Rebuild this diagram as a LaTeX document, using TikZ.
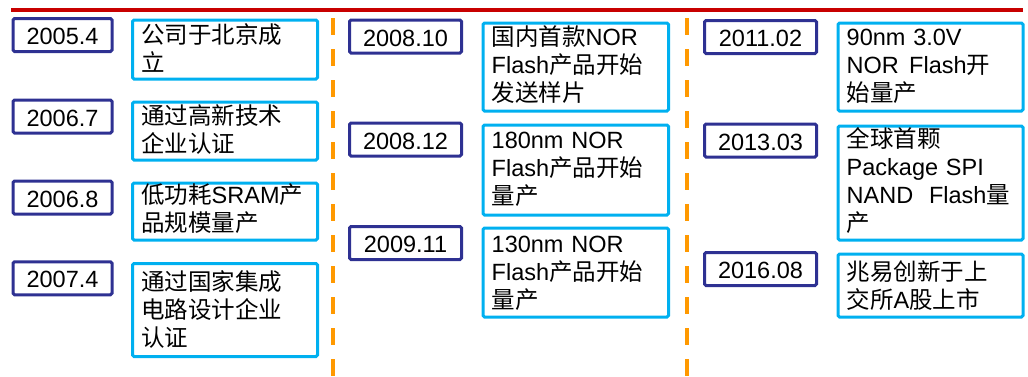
\documentclass[tikz,border=0pt]{standalone}
\usepackage{fontspec}
\setmainfont{Liberation Sans}
\newfontfamily\cjkfont{Noto Sans CJK SC}
\newcommand\zh[1]{{\cjkfont #1}}
\definecolor{navyb}{RGB}{46,49,146}
\definecolor{skyb}{RGB}{0,176,240}
\definecolor{orng}{RGB}{255,153,0}
\definecolor{redl}{RGB}{200,0,0}
\tikzset{
  datebox/.style={draw=navyb, line width=3pt, rounded corners=1.5pt, inner sep=0pt,
    minimum width=112pt, minimum height=33pt, text height=19pt, text depth=0pt,
    font=\fontsize{23.5}{28}\selectfont},
  descbox/.style={draw=skyb, line width=3pt, rounded corners=1.5pt, inner sep=0pt, anchor=north west},
  desctext/.style={anchor=base west, inner sep=0pt, text width=200pt, align=left,
    font=\fontsize{23.5}{28}\selectfont},
  timeline/.style={draw=orng, line width=4pt, dash pattern=on 17pt off 14pt},
  topline/.style={draw=redl, line width=3.5pt},
}
\begin{document}
\begin{tikzpicture}[x=1pt,y=-1pt]
\useasboundingbox (0,0) rectangle (1028,376);
% top red line
\coordinate (rl) at (11,10);
\coordinate (rr) at (1023,10);
\draw[topline] (rl) -- (rr);
% dashed separators
\coordinate (s1t) at (333,18);
\coordinate (s1b) at (333,376);
\coordinate (s2t) at (687,18);
\coordinate (s2b) at (687,376);
\draw[timeline] (s1t) -- (s1b);
\draw[timeline] (s2t) -- (s2b);

% column 1 dates
\node[datebox, minimum width=99pt] (d1) at (62.5,35) {2005.4};
\node[datebox, minimum width=99pt] (d2) at (62.5,116.5) {2006.7};
\node[datebox, minimum width=99pt] (d3) at (62.5,197.5) {2006.8};
\node[datebox, minimum width=99pt] (d4) at (62.5,278.3) {2007.4};
% column 1 descriptions
\node[descbox, minimum width=185pt, minimum height=59pt] (e1) at (131,18.5) {};
\node[descbox, minimum width=185pt, minimum height=58pt] (e2) at (131,100.5) {};
\node[descbox, minimum width=185pt, minimum height=57pt] (e3) at (131,181.5) {};
\node[descbox, minimum width=185pt, minimum height=93pt] (e4) at (131,262) {};
\node[desctext] (te1) at (141,43.5) {\zh{公司于北京成}\\\zh{立}};
\node[desctext] (te2) at (141,124.5) {\zh{通过高新技术}\\\zh{企业认证}};
\node[desctext] (te3) at (141,203.5) {\zh{低功耗}SRAM\zh{产}\\\zh{品规模量产}};
\node[desctext] (te4) at (141,290) {\zh{通过国家集成}\\\zh{电路设计企业}\\\zh{认证}};

% column 2 dates
\node[datebox] (d5) at (405.5,36.5) {2008.10};
\node[datebox] (d6) at (405.5,139.5) {2008.12};
\node[datebox] (d7) at (405.5,243) {2009.11};
% column 2 descriptions
\node[descbox, minimum width=185.5pt, minimum height=88pt] (f1) at (481.5,21.5) {};
\node[descbox, minimum width=185.5pt, minimum height=90pt] (f2) at (481.5,123.5) {};
\node[descbox, minimum width=185.5pt, minimum height=89pt] (f3) at (481.5,226.5) {};
\node[desctext] (tf1) at (491.5,45.7) {\zh{国内首款}NOR\\Flash\zh{产品开始}\\\zh{发送样片}};
\node[desctext] (tf2) at (491.5,148.3) {180nm NOR\\Flash\zh{产品开始}\\\zh{量产}};
\node[desctext] (tf3) at (491.5,252.7) {130nm NOR\\Flash\zh{产品开始}\\\zh{量产}};

% column 3 dates
\node[datebox] (d8) at (760.5,37) {2011.02};
\node[datebox] (d9) at (760.5,140.5) {2013.03};
\node[datebox] (d10) at (760.5,269) {2016.08};
% column 3 descriptions
\node[descbox, minimum width=185pt, minimum height=88pt] (g1) at (836.5,21.5) {};
\node[descbox, minimum width=185pt, minimum height=114pt] (g2) at (836.5,124.5) {};
\node[descbox, minimum width=185pt, minimum height=63pt] (g3) at (836.5,252.5) {};
\node[desctext] (tg1) at (846.5,45.7) {90nm 3.0V\\NOR\hspace{2.5pt} Flash\zh{开}\\\zh{始量产}};
\node[desctext] (tg2) at (846.5,147.5) {\zh{全球首颗}\\Package SPI\\NAND\hspace{8pt} Flash\zh{量}\\\zh{产}};
\node[desctext] (tg3) at (846.5,280.5) {\zh{兆易创新于上}\\\zh{交所}A\zh{股上市}};
\end{tikzpicture}
\end{document}
